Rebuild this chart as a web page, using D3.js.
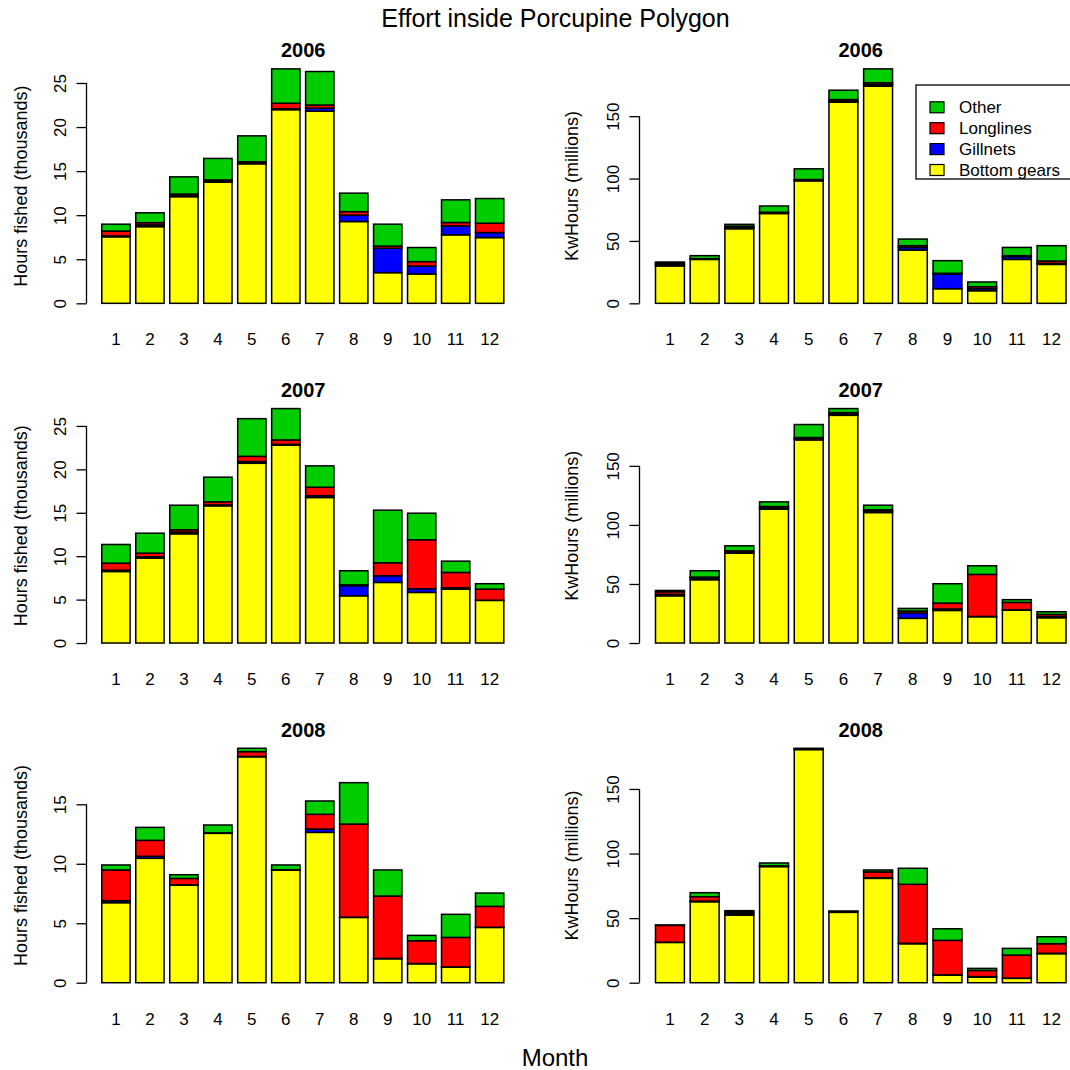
<!DOCTYPE html>
<html>
<head>
<meta charset="utf-8">
<script src="https://cdn.jsdelivr.net/npm/d3@7"></script>
<style>
  body { margin: 0; background: #fff; }
  svg { display: block; }
  text { font-family: "Liberation Sans", Arial, sans-serif; fill: #000; }
</style>
</head>
<body>
<div id="chart"></div>
<script>
var months = ["1", "2", "3", "4", "5", "6", "7", "8", "9", "10", "11", "12"];
var years = ["2006", "2007", "2008"];
var gears = ["Bottom gears", "Gillnets", "Longlines", "Other"];
var gearColors = ["#ffff00", "#0000ff", "#ff0000", "#00cd00"];
var legendLabels = ["Other", "Longlines", "Gillnets", "Bottom gears"];
var legendColors = ["#00cd00", "#ff0000", "#0000ff", "#ffff00"];

// hours fished (thousands)
var hours2006Bottom = [7.55, 8.7, 12.1, 13.75, 15.83, 21.97, 21.8, 9.28, 3.48, 3.33, 7.77, 7.46];
var hours2006Gill   = [0.1, 0.2, 0.1, 0.1, 0.1, 0.1, 0.35, 0.72, 2.77, 0.91, 1.02, 0.57];
var hours2006Long   = [0.55, 0.25, 0.2, 0.15, 0.13, 0.63, 0.35, 0.4, 0.25, 0.49, 0.38, 1.06];
var hours2006Other  = [0.78, 1.12, 1.95, 2.44, 2.94, 3.9, 3.8, 2.1, 2.48, 1.6, 2.57, 2.8];

var hours2007Bottom = [8.24, 9.78, 12.58, 15.8, 20.7, 22.78, 16.76, 5.44, 6.98, 5.83, 6.21, 4.91];
var hours2007Gill   = [0.15, 0.15, 0.2, 0.1, 0.2, 0.1, 0.2, 1.16, 0.77, 0.42, 0.15, 0.02];
var hours2007Long   = [0.81, 0.42, 0.26, 0.36, 0.6, 0.51, 0.98, 0.1, 1.49, 5.64, 1.77, 1.28];
var hours2007Other  = [2.15, 2.3, 2.83, 2.84, 4.34, 3.61, 2.46, 1.62, 6.06, 3.06, 1.3, 0.62];

var hours2008Bottom = [6.73, 10.46, 8.21, 12.56, 19.0, 9.48, 12.64, 5.49, 2.02, 1.6, 1.32, 4.65];
var hours2008Gill   = [0.17, 0.17, 0.02, 0.02, 0.02, 0.01, 0.28, 0.02, 0.02, 0.01, 0.01, 0.01];
var hours2008Long   = [2.58, 1.34, 0.54, 0.02, 0.41, 0.01, 1.24, 7.83, 5.25, 1.92, 2.48, 1.76];
var hours2008Other  = [0.42, 1.09, 0.31, 0.66, 0.28, 0.4, 1.12, 3.48, 2.19, 0.45, 1.94, 1.12];

// KwHours (millions)
var kwh2006Bottom = [30, 35.2, 59.8, 72, 98.2, 161.2, 174, 42.7, 11.7, 10.1, 35.2, 31.2];
var kwh2006Gill   = [1.0, 0.3, 1.0, 0.4, 0.4, 0.8, 1.2, 2.1, 11.8, 1.6, 2.2, 0.8];
var kwh2006Long   = [1.0, 0.3, 1.0, 0.6, 0.6, 1.3, 1.5, 1.4, 0.6, 1.6, 0.8, 1.9];
var kwh2006Other  = [1.1, 2.4, 1.5, 5.0, 8.6, 7.5, 11.2, 5.3, 10.1, 3.8, 6.6, 12.3];

var kwh2007Bottom = [40.0, 53.6, 76.1, 113.3, 172, 192.8, 110.5, 20.9, 27.6, 22.3, 27.9, 21.4];
var kwh2007Gill   = [1.2, 1.1, 1.0, 1.1, 1.0, 1.1, 1.1, 4.5, 1.2, 0.2, 0.3, 1.0];
var kwh2007Long   = [2.2, 1.1, 1.0, 1.2, 1.0, 1.2, 1.2, 1.7, 5.0, 35.6, 6.2, 1.8];
var kwh2007Other  = [1.1, 5.4, 4.2, 3.9, 11.0, 3.4, 3.9, 2.2, 16.4, 7.3, 2.3, 2.3];

var kwh2008Bottom = [31.2, 62.7, 52.4, 89.9, 180.5, 54.5, 80.8, 30.2, 5.9, 4.4, 3.4, 22.5];
var kwh2008Gill   = [0.2, 0.5, 1.2, 0.3, 0.3, 0.3, 0.5, 0.3, 0.2, 0.3, 0.2, 0.3];
var kwh2008Long   = [13.0, 3.4, 1.2, 0.3, 0.3, 0.3, 4.5, 45.7, 26.7, 4.8, 17.8, 7.4];
var kwh2008Other  = [0.3, 3.1, 1.0, 2.2, 0.4, 0.4, 1.5, 12.4, 9.0, 1.6, 5.2, 5.4];

var hoursTicks = [[0, 5, 10, 15, 20, 25], [0, 5, 10, 15, 20, 25], [0, 5, 10, 15]];
var kwhTicks = [[0, 50, 100, 150], [0, 50, 100, 150], [0, 50, 100, 150]];

var hoursData = [
  [hours2006Bottom, hours2006Gill, hours2006Long, hours2006Other],
  [hours2007Bottom, hours2007Gill, hours2007Long, hours2007Other],
  [hours2008Bottom, hours2008Gill, hours2008Long, hours2008Other]
];
var kwhData = [
  [kwh2006Bottom, kwh2006Gill, kwh2006Long, kwh2006Other],
  [kwh2007Bottom, kwh2007Gill, kwh2007Long, kwh2007Other],
  [kwh2008Bottom, kwh2008Gill, kwh2008Long, kwh2008Other]
];

var width = 1070, height = 1070;
var rowStep = 339.7;
var plotTop = 59.5, plotH = 253.2;
var cols = [
  {axis: 86.5, barL: 101.8, barR: 503.8, ylab: "Hours fished (thousands)", ylabX: 20.5},
  {axis: 639.5, barL: 655.5, barR: 1066, ylab: "KwHours (millions)", ylabX: 571.5}
];

var svg = d3.select("#chart").append("svg")
  .attr("width", width)
  .attr("height", height);

svg.append("text")
  .attr("x", 555.5).attr("y", 26.5)
  .attr("text-anchor", "middle")
  .style("font-size", "25px")
  .text("Effort inside Porcupine Polygon");

svg.append("text")
  .attr("x", 555).attr("y", 1066)
  .attr("text-anchor", "middle")
  .style("font-size", "24px")
  .text("Month");

function drawPanel(series, ticks, row, ci) {
  var c = cols[ci];
  var top = plotTop + row * rowStep;
  var bottom = top + plotH;

  var rows = months.map(function(m, i) {
    return series.map(function(s) { return s[i]; });
  });
  var stacked = d3.stack().keys([0, 1, 2, 3]).value(function(d, k) { return d[k]; })(rows);
  var maxVal = d3.max(rows, function(r) { return d3.sum(r); });

  var y = d3.scaleLinear().domain([-0.04 * maxVal, 1.04 * maxVal]).range([bottom, top]);
  var x = d3.scaleBand().domain(months).range([c.barL, c.barR]).paddingInner(1 / 6).paddingOuter(0);

  var g = svg.append("g");

  g.selectAll("g.layer")
    .data(stacked)
    .enter().append("g")
    .attr("class", "layer")
    .attr("fill", function(d, i) { return gearColors[i]; })
    .selectAll("rect")
    .data(function(d) { return d; })
    .enter().append("rect")
    .attr("x", function(d, i) { return x(months[i]); })
    .attr("width", x.bandwidth())
    .attr("y", function(d) { return y(d[1]); })
    .attr("height", function(d) { return y(d[0]) - y(d[1]); })
    .attr("stroke", "#000")
    .attr("stroke-width", 1.5);

  // y axis, line only between first and last tick
  var ya = g.append("g")
    .attr("transform", "translate(" + c.axis + ",0)")
    .call(d3.axisLeft(y).tickValues(ticks).tickSize(10).tickSizeOuter(0));
  ya.select(".domain").remove();
  ya.selectAll(".tick line").attr("stroke", "#000").attr("stroke-width", 1.3);
  ya.append("line")
    .attr("y1", y(ticks[0])).attr("y2", y(ticks[ticks.length - 1]))
    .attr("stroke", "#000").attr("stroke-width", 1.3);
  ya.selectAll(".tick text")
    .attr("transform", "rotate(-90)")
    .attr("x", 0).attr("y", -21).attr("dy", 0)
    .attr("text-anchor", "middle")
    .style("font-size", "17px")
    .style("font-family", "'Liberation Sans', Arial, sans-serif");

  // month labels
  var xa = g.append("g")
    .attr("transform", "translate(0," + bottom + ")")
    .call(d3.axisBottom(x).tickSize(0));
  xa.select(".domain").remove();
  xa.selectAll(".tick text")
    .attr("y", 20.4).attr("dy", "0.71em")
    .style("font-size", "17px")
    .style("font-family", "'Liberation Sans', Arial, sans-serif");

  g.append("text")
    .attr("x", (c.axis + c.barR + 16) / 2).attr("y", top - 2.2)
    .attr("text-anchor", "middle")
    .style("font-size", "20px")
    .style("font-weight", "bold")
    .text(years[row]);

  g.append("text")
    .attr("transform", "translate(" + c.ylabX + "," + (top + plotH / 2) + ") rotate(-90)")
    .attr("dy", "0.35em")
    .attr("text-anchor", "middle")
    .style("font-size", "18px")
    .text(c.ylab);
}

for (var r = 0; r < 3; r++) {
  drawPanel(hoursData[r], hoursTicks[r], r, 0);
  drawPanel(kwhData[r], kwhTicks[r], r, 1);
}

// legend (runs off the right edge like the original)
var lg = svg.append("g").attr("transform", "translate(916,85)");
lg.append("rect")
  .attr("width", 180).attr("height", 94)
  .attr("fill", "#fff").attr("stroke", "#000").attr("stroke-width", 1.3);
var ly = d3.scalePoint().domain(legendLabels).range([22.3, 85]);
var items = lg.selectAll("g.item")
  .data(legendLabels)
  .enter().append("g")
  .attr("class", "item")
  .attr("transform", function(d) { return "translate(0," + ly(d) + ")"; });
items.append("rect")
  .attr("x", 14).attr("y", -5.5)
  .attr("width", 14).attr("height", 11)
  .attr("fill", function(d, i) { return legendColors[i]; })
  .attr("stroke", "#000").attr("stroke-width", 1.2);
items.append("text")
  .attr("x", 43).attr("dy", "0.36em")
  .style("font-size", "17px")
  .text(function(d) { return d; });
</script>
</body>
</html>
